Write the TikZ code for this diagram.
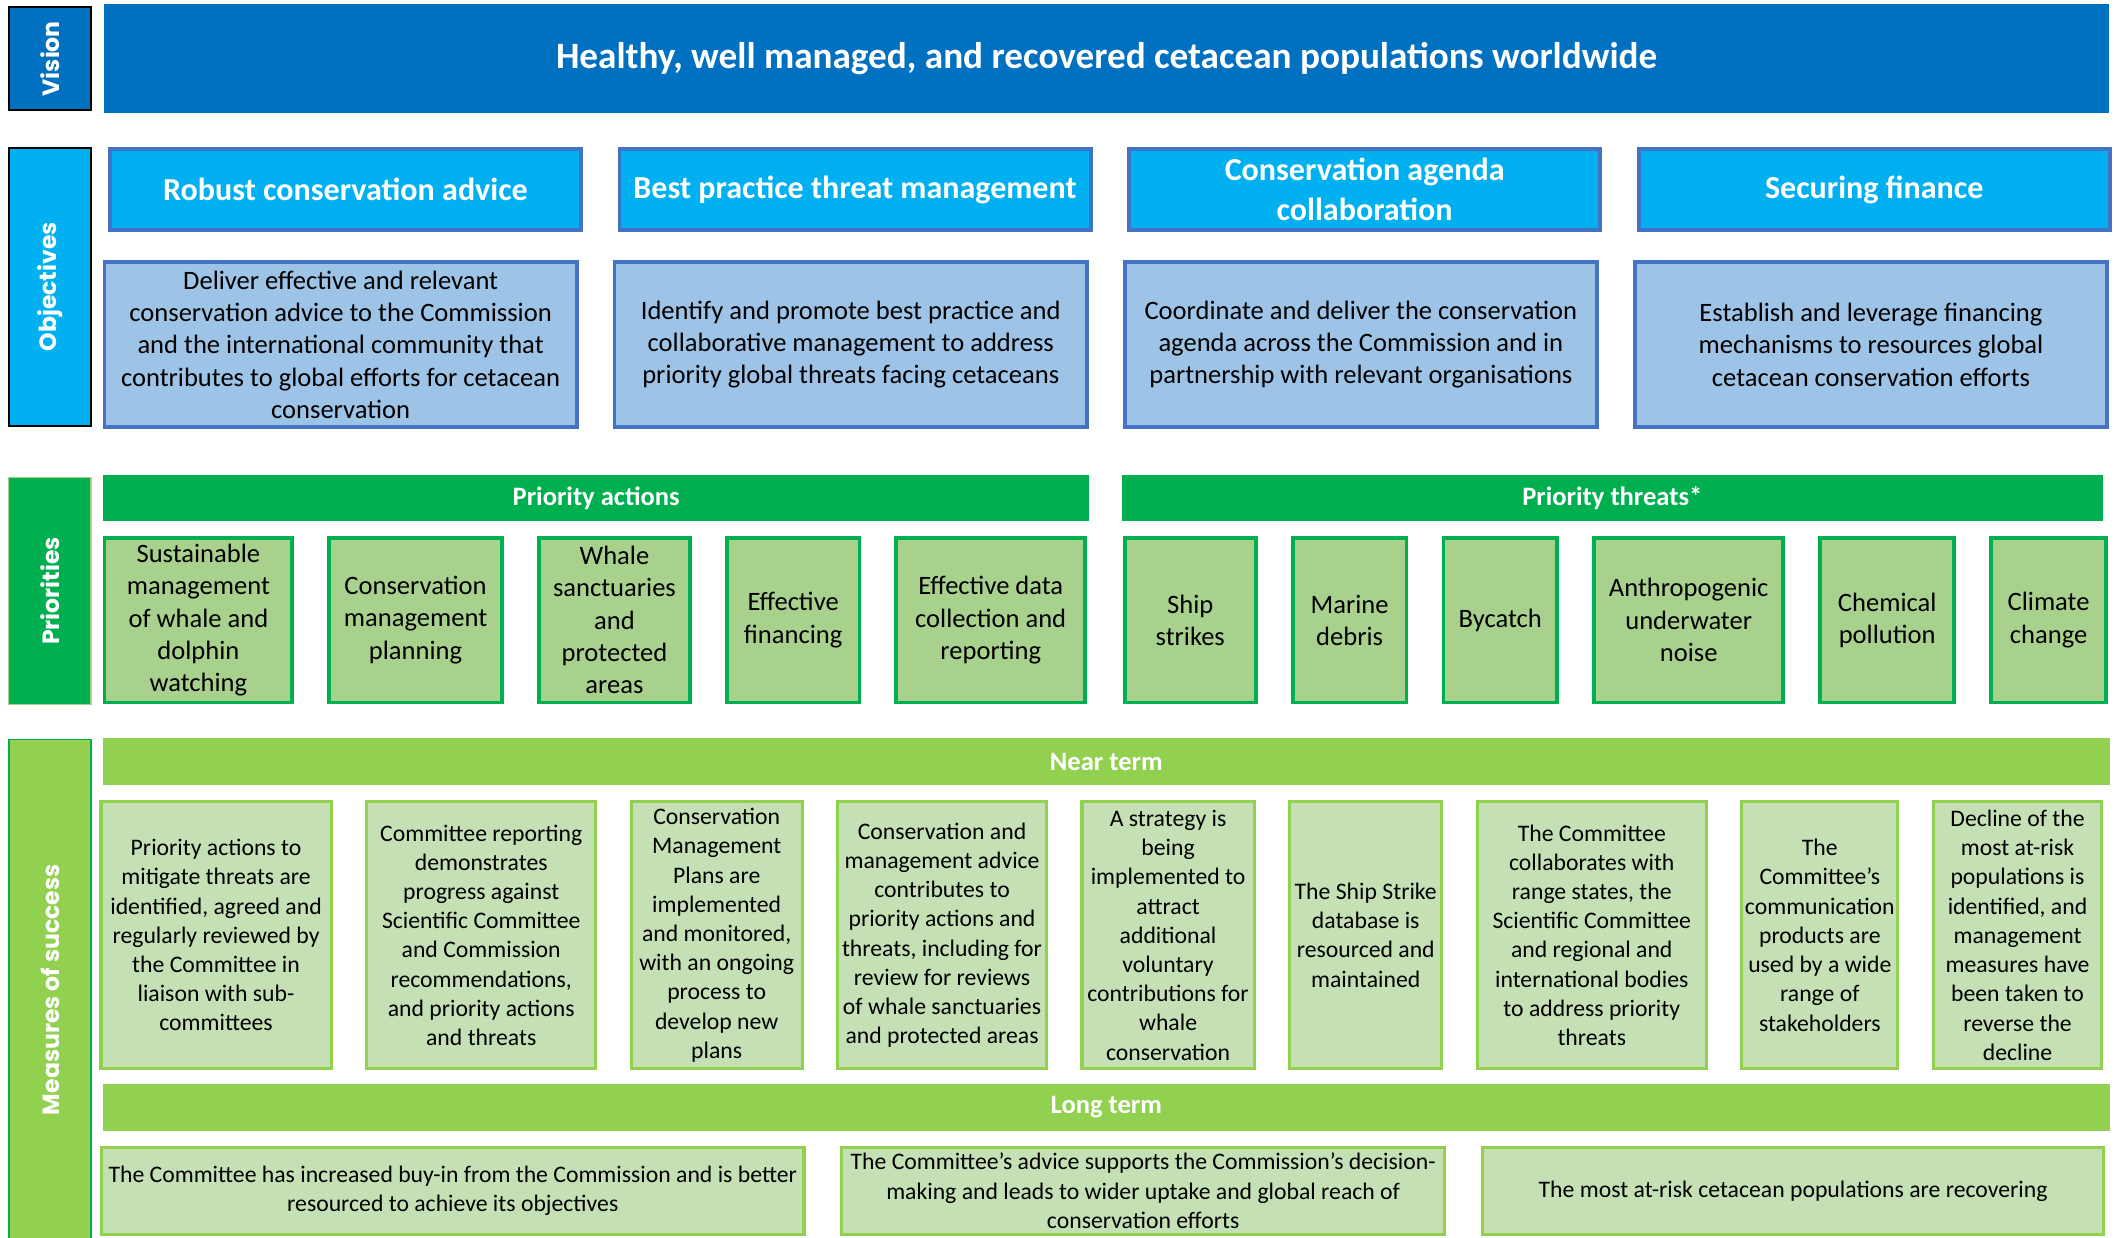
\documentclass[tikz,border=0pt]{standalone}
\usepackage{fontspec}
\setmainfont{Carlito}
\newfontfamily\labelfont{Poppins}
\usetikzlibrary{positioning}
\definecolor{VisionBlue}{HTML}{0070C0}
\definecolor{ObjBlue}{HTML}{00B0F0}
\definecolor{FrameBlue}{HTML}{4472C4}
\definecolor{PaleBlue}{HTML}{9DC3E6}
\definecolor{PriGreen}{HTML}{00B050}
\definecolor{MidGreen}{HTML}{A9D18E}
\definecolor{NearGreen}{HTML}{92D050}
\definecolor{PaleGreen}{HTML}{C5E0B4}

\begin{document}
\begin{tikzpicture}[
  sidelabel/.style={draw=black, line width=1pt, minimum width=1.52cm, align=center,
    inner sep=0pt, text=white, font=\labelfont\bfseries\fontsize{12.4}{15}\selectfont},
  bandbar/.style={inner sep=0pt, text=white, align=center},
  objhead/.style={draw=FrameBlue, fill=ObjBlue, line width=2pt, minimum width=8.73cm,
    minimum height=1.505cm, align=center, inner sep=1pt, text=white,
    font=\bfseries\fontsize{16.9}{21}\selectfont},
  objtext/.style={draw=FrameBlue, fill=PaleBlue, line width=2pt, minimum width=8.75cm,
    minimum height=3.055cm, align=center, inner sep=1pt, font=\fontsize{14}{17}\selectfont},
  prioritem/.style={draw=PriGreen, fill=MidGreen, line width=2pt, minimum height=3.055cm,
    align=center, inner sep=1pt, font=\fontsize{14}{17}\selectfont},
  measitem/.style={draw=NearGreen, fill=PaleGreen, line width=1.7pt, align=center,
    inner sep=1pt, font=\fontsize{12.5}{15.4}\selectfont}
]
\path[use as bounding box, fill=white] (0,0) rectangle (39.2,-22.925);

% vision
\node[sidelabel, fill=VisionBlue, minimum height=1.9cm] (visionlabel) at (0.925,-1.0875) {\rotatebox{90}{Vision}};
\node[bandbar, fill=VisionBlue, minimum width=37.15cm, minimum height=2.025cm,
  font=\bfseries\fontsize{19.6}{23}\selectfont] (visionbar) at (20.5,-1.0875)
  {Healthy, well managed, and recovered cetacean populations worldwide};

% objectives
\node[sidelabel, fill=ObjBlue, minimum height=5.15cm] (objlabel) at (0.925,-5.3125) {\rotatebox{90}{Objectives}};
\node[objhead, anchor=west] (advicehead) at (2.0,-3.5125) {Robust conservation advice};
\node[objhead, right=0.64cm of advicehead] (threathead) {Best practice threat management};
\node[objhead, right=0.64cm of threathead] (agendahead) {Conservation agenda\\collaboration};
\node[objhead, right=0.64cm of agendahead] (financehead) {Securing finance};

\node[objtext, anchor=west] (advicetext) at (1.9,-6.3875) {Deliver effective and relevant\\conservation advice to the Commission\\and the international community that\\contributes to global efforts for cetacean\\conservation};
\node[objtext, right=0.63cm of advicetext] (threattext) {Identify and promote best practice and\\collaborative management to address\\priority global threats facing cetaceans};
\node[objtext, right=0.63cm of threattext] (agendatext) {Coordinate and deliver the conservation\\agenda across the Commission and in\\partnership with relevant organisations};
\node[objtext, right=0.63cm of agendatext] (financetext) {Establish and leverage financing\\mechanisms to resources global\\cetacean conservation efforts};

% priorities
\node[sidelabel, draw=MidGreen, line width=0.6pt, fill=PriGreen, minimum height=4.2cm] (priolabel) at (0.925,-10.95) {\rotatebox{90}{Priorities}};
\node[bandbar, fill=PriGreen, anchor=west, minimum width=18.275cm, minimum height=0.85cm,
  font=\bfseries\fontsize{14}{17}\selectfont] (actionsbar) at (1.9,-9.225) {Priority actions};
\node[bandbar, fill=PriGreen, anchor=west, minimum width=18.175cm, minimum height=0.85cm,
  font=\bfseries\fontsize{14}{17}\selectfont] (threatsbar) at (20.775,-9.225) {Priority threats*};

\node[prioritem, anchor=west, minimum width=3.48cm] (watching) at (1.9,-11.4875) {Sustainable\\management\\of whale and\\dolphin\\watching};
\node[prioritem, right=0.61cm of watching, minimum width=3.205cm] (planning) {Conservation\\management\\planning};
\node[prioritem, right=0.61cm of planning, minimum width=2.805cm] (sanctuaries) {Whale\\sanctuaries\\and\\protected\\areas};
\node[prioritem, right=0.61cm of sanctuaries, minimum width=2.455cm] (financing) {Effective\\financing};
\node[prioritem, right=0.61cm of financing, minimum width=3.505cm] (datacoll) {Effective data\\collection and\\reporting};

\node[prioritem, anchor=west, minimum width=2.43cm] (shipstrikes) at (20.8,-11.4875) {Ship\\strikes};
\node[prioritem, right=0.615cm of shipstrikes, minimum width=2.105cm] (debris) {Marine\\debris};
\node[prioritem, right=0.615cm of debris, minimum width=2.105cm] (bycatch) {Bycatch};
\node[prioritem, right=0.615cm of bycatch, minimum width=3.505cm] (noise) {Anthropogenic\\underwater\\noise};
\node[prioritem, right=0.615cm of noise, minimum width=2.48cm] (pollution) {Chemical\\pollution};
\node[prioritem, right=0.615cm of pollution, minimum width=2.13cm] (climate) {Climate\\change};

% measures of success
\node[sidelabel, draw=PriGreen, line width=0.8pt, fill=NearGreen, minimum height=9.275cm] (measlabel) at (0.925,-18.3375) {\rotatebox{90}{Measures of success}};
\node[bandbar, fill=NearGreen, anchor=west, minimum width=37.175cm, minimum height=0.875cm,
  font=\bfseries\fontsize{14}{17}\selectfont] (nearbar) at (1.9,-14.1125) {Near term};

\node[measitem, anchor=west, minimum width=4.265cm, minimum height=4.94cm] (nearactions) at (1.84,-17.325) {Priority actions to\\mitigate threats are\\identified, agreed and\\regularly reviewed by\\the Committee in\\liaison with sub-\\committees};
\node[measitem, right=0.6cm of nearactions, minimum width=4.24cm, minimum height=4.94cm] (nearreport) {Committee reporting\\demonstrates\\progress against\\Scientific Committee\\and Commission\\recommendations,\\and priority actions\\and threats};
\node[measitem, right=0.6cm of nearreport, minimum width=3.165cm, minimum height=4.94cm] (nearplans) {Conservation\\Management\\Plans are\\implemented\\and monitored,\\with an ongoing\\process to\\develop new\\plans};
\node[measitem, right=0.6cm of nearplans, minimum width=3.865cm, minimum height=4.94cm] (nearadvice) {Conservation and\\management advice\\contributes to\\priority actions and\\threats, including for\\review for reviews\\of whale sanctuaries\\and protected areas};
\node[measitem, right=0.6cm of nearadvice, minimum width=3.19cm, minimum height=4.94cm] (nearstrategy) {A strategy is\\being\\implemented to\\attract\\additional\\voluntary\\contributions for\\whale\\conservation};
\node[measitem, right=0.6cm of nearstrategy, minimum width=2.815cm, minimum height=4.94cm] (neardatabase) {The Ship Strike\\database is\\resourced and\\maintained};
\node[measitem, right=0.6cm of neardatabase, minimum width=4.24cm, minimum height=4.94cm] (nearcollab) {The Committee\\collaborates with\\range states, the\\Scientific Committee\\and regional and\\international bodies\\to address priority\\threats};
\node[measitem, right=0.6cm of nearcollab, minimum width=2.89cm, minimum height=4.94cm] (nearcomms) {The\\Committee’s\\communication\\products are\\used by a wide\\range of\\stakeholders};
\node[measitem, right=0.6cm of nearcomms, minimum width=3.115cm, minimum height=4.94cm] (neardecline) {Decline of the\\most at-risk\\populations is\\identified, and\\management\\measures have\\been taken to\\reverse the\\decline};

\node[bandbar, fill=NearGreen, anchor=west, minimum width=37.175cm, minimum height=0.875cm,
  font=\bfseries\fontsize{14}{17}\selectfont] (longbar) at (1.9,-20.5125) {Long term};

\node[measitem, anchor=west, minimum width=13.015cm, minimum height=1.615cm] (longbuyin) at (1.85,-22.0625) {The Committee has increased buy-in from the Commission and is better\\resourced to achieve its objectives};
\node[measitem, right=0.64cm of longbuyin, minimum width=11.165cm, minimum height=1.615cm] (longuptake) {The Committee’s advice supports the Commission’s decision-\\making and leads to wider uptake and global reach of\\conservation efforts};
\node[measitem, right=0.64cm of longuptake, minimum width=11.515cm, minimum height=1.615cm] (longrecover) {The most at-risk cetacean populations are recovering};

\end{tikzpicture}
\end{document}
